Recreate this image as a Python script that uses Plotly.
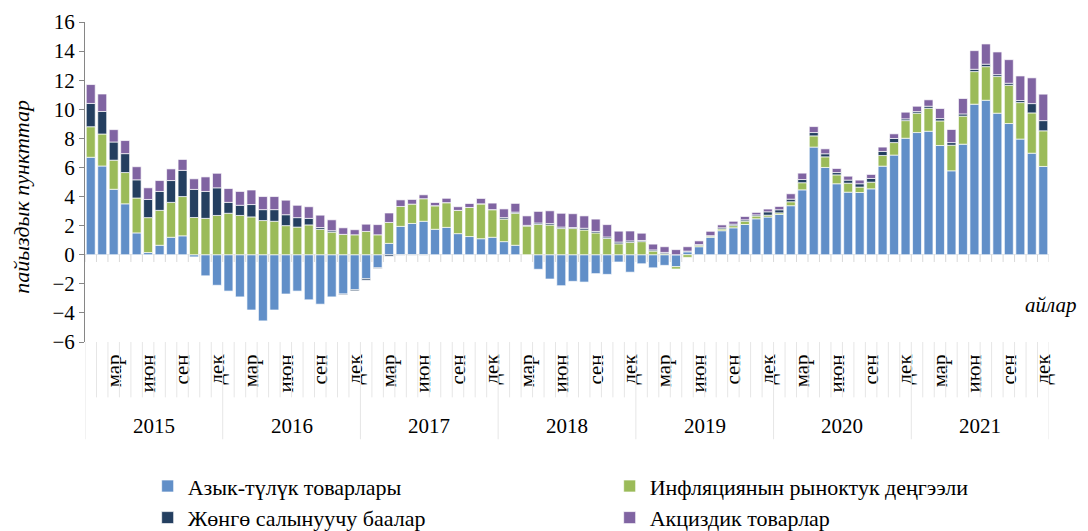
import plotly.graph_objects as go

years = ["2015", "2016", "2017", "2018", "2019", "2020", "2021"]
month_labels = ["", "", "мар", "", "", "июн", "", "", "сен", "", "", "дек"]

series_names = ["Азык-түлүк товарлары", "Инфляциянын рыноктук деңгээли",
                "Жөнгө салынуучу баалар", "Акциздик товарлар"]
series_colors = ["#618FC8", "#9BBB59", "#243F60", "#8064A2"]

food = [6.7, 6.1, 4.5, 3.5, 1.5, 0.15, 0.65, 1.2, 1.3, -0.15, -1.45, -2.1,
        -2.5, -2.9, -3.8, -4.55, -3.8, -2.7, -2.5, -3.1, -3.4, -2.9, -2.7, -2.4,
        -1.65, -0.9, 0.78, 1.95, 2.15, 2.3, 1.75, 1.88, 1.45, 1.25, 1.1, 1.2,
        0.9, 0.65, 0.0, -1.0, -1.67, -2.13, -1.83, -1.88, -1.3, -1.35, -0.5, -1.2,
        -0.62, -0.9, -0.73, -0.82, 0.2, 0.55, 1.2, 1.65, 1.85, 2.08, 2.47, 2.59,
        2.77, 3.37, 4.46, 7.4, 6.0, 4.88, 4.3, 4.28, 4.53, 6.09, 6.85, 8.01,
        8.4, 8.49, 7.51, 5.77, 7.6, 10.35, 10.62, 9.73, 9.02, 7.95, 6.98, 6.07]

market = [2.1, 2.2, 2.0, 2.15, 2.4, 2.4, 2.4, 2.4, 2.7, 2.56, 2.5, 2.7,
          2.85, 2.7, 2.6, 2.35, 2.3, 2.0, 1.9, 2.05, 1.75, 1.55, 1.4, 1.37,
          1.6, 1.37, 1.44, 1.37, 1.33, 1.55, 1.62, 1.7, 1.6, 2.0, 2.4, 1.9,
          1.55, 2.2, 1.97, 2.08, 2.04, 1.8, 1.8, 1.7, 1.5, 1.12, 0.75, 0.85,
          0.9, 0.25, 0.07, -0.16, -0.18, 0.1, 0.08, 0.12, 0.15, 0.23, 0.19, 0.13,
          0.11, 0.27, 0.49, 0.77, 0.73, 0.61, 0.62, 0.37, 0.46, 0.73, 0.86, 1.21,
          1.33, 1.58, 1.69, 1.76, 1.93, 2.24, 2.31, 2.52, 2.63, 2.51, 2.77, 2.45]

regulated = [1.6, 1.55, 1.25, 1.3, 1.25, 1.25, 1.3, 1.5, 1.8, 1.93, 1.85, 1.9,
             0.75, 0.7, 0.85, 0.75, 0.8, 0.75, 0.65, 0.45, 0.12, 0.1, -0.05, -0.08,
             -0.1, -0.05, -0.1, -0.03, -0.03, -0.03, 0.0, 0.0, 0.0, 0.0, 0.0, 0.0,
             0.1, 0.08, 0.05, 0.1, 0.1, 0.1, 0.07, 0.12, 0.1, 0.1, 0.12, 0.1,
             0.08, 0.08, 0.09, 0.0, 0.05, 0.05, 0.03, 0.08, 0.1, 0.09, 0.08, 0.23,
             0.21, 0.18, 0.22, 0.23, 0.21, 0.16, 0.21, 0.23, 0.25, 0.28, 0.28, 0.12,
             0.11, 0.14, 0.16, 0.18, 0.15, 0.16, 0.17, 0.13, 0.14, 0.14, 0.64, 0.7]

excise = [1.3, 1.2, 0.85, 0.9, 0.9, 0.8, 0.75, 0.8, 0.75, 0.73, 1.0, 1.0,
          0.95, 0.95, 1.0, 0.9, 0.9, 1.0, 0.85, 0.8, 0.85, 0.75, 0.45, 0.35,
          0.5, 0.7, 0.65, 0.45, 0.32, 0.27, 0.22, 0.3, 0.25, 0.27, 0.37, 0.45,
          0.6, 0.6, 0.65, 0.8, 0.88, 0.95, 0.95, 0.85, 0.85, 0.85, 0.75, 0.68,
          0.5, 0.4, 0.39, 0.35, 0.3, 0.25, 0.3, 0.2, 0.2, 0.23, 0.17, 0.19,
          0.23, 0.37, 0.44, 0.41, 0.34, 0.28, 0.27, 0.25, 0.28, 0.3, 0.32, 0.46,
          0.37, 0.44, 0.69, 0.9, 1.06, 1.28, 1.39, 1.56, 1.62, 1.69, 1.77, 1.82]

FONT = "Liberation Serif"
n = len(food)
x = list(range(n))
all_series = [food, market, regulated, excise]

fig = go.Figure()
for name, color, vals in zip(series_names, series_colors, all_series):
    fig.add_trace(go.Bar(
        x=x, y=vals, name=name,
        marker=dict(color=color, line=dict(color="rgba(255,255,255,0.85)", width=0.8)),
    ))

tickvals, ticktext = [], []
for yi in range(len(years)):
    for mi, lab in enumerate(month_labels):
        if lab:
            tickvals.append(yi * 12 + mi)
            ticktext.append(lab)

shapes = []
# zero-line tick marks
for i in range(n + 1):
    shapes.append(dict(type="line", xref="x", yref="y", x0=i - 0.5, x1=i - 0.5,
                       y0=0, y1=-0.5, line=dict(color="#d9d9d9", width=1)))
# separators under the axis
for i in range(n + 1):
    is_year = (i % 12 == 0)
    shapes.append(dict(type="line", xref="x", yref="paper", x0=i - 0.5, x1=i - 0.5,
                       y0=0, y1=(-0.304 if is_year else -0.173),
                       line=dict(color="#e6e6e6", width=1)))

annotations = []
for yi, yr in enumerate(years):
    annotations.append(dict(x=yi * 12 + 5.5, y=-0.264, xref="x", yref="paper",
                            text=yr, showarrow=False, xanchor="center", yanchor="middle",
                            font=dict(family=FONT, size=21, color="#000")))
annotations.append(dict(x=-0.066, y=0.455, xref="paper", yref="paper",
                        text="<i>пайыздык пункттар</i>", textangle=-90, showarrow=False,
                        xanchor="center", yanchor="middle",
                        font=dict(family=FONT, size=22, color="#000")))
annotations.append(dict(x=1.030, y=0.117, xref="paper", yref="paper",
                        text="<i>айлар</i>", showarrow=False,
                        xanchor="right", yanchor="middle",
                        font=dict(family=FONT, size=21, color="#000")))

# the page body adds an 8px offset; margins compensate so the plot area
# lands at x 85..1049, y 22..342.5 of the window
fig.update_layout(
    width=1088, height=531,
    margin=dict(l=77, r=47, t=14, b=196.5, autoexpand=False),
    barmode="relative", bargap=0.22,
    plot_bgcolor="white", paper_bgcolor="white",
    font=dict(family=FONT, size=21, color="#000"),
    xaxis=dict(range=[-0.5, n - 0.5], tickmode="array", tickvals=tickvals,
               ticktext=ticktext, tickangle=-90, showgrid=False, zeroline=False,
               showline=False, ticks="outside", ticklen=3, tickcolor="rgba(0,0,0,0)",
               tickfont=dict(family=FONT, size=21, color="#000")),
    yaxis=dict(range=[-6, 16], dtick=2, showgrid=False, zeroline=True,
               zerolinecolor="#e3e3e3", zerolinewidth=1,
               showline=True, linecolor="#868686", linewidth=1,
               ticks="outside", ticklen=5, tickcolor="#868686",
               tickfont=dict(family=FONT, size=21, color="#000")),
    legend=dict(orientation="h", x=0.065, y=-0.385, xanchor="left", yanchor="top",
                entrywidth=417, entrywidthmode="pixels", itemwidth=30,
                font=dict(family=FONT, size=22, color="#000"),
                traceorder="normal"),
    shapes=shapes, annotations=annotations,
)

fig.write_html("out.html")
